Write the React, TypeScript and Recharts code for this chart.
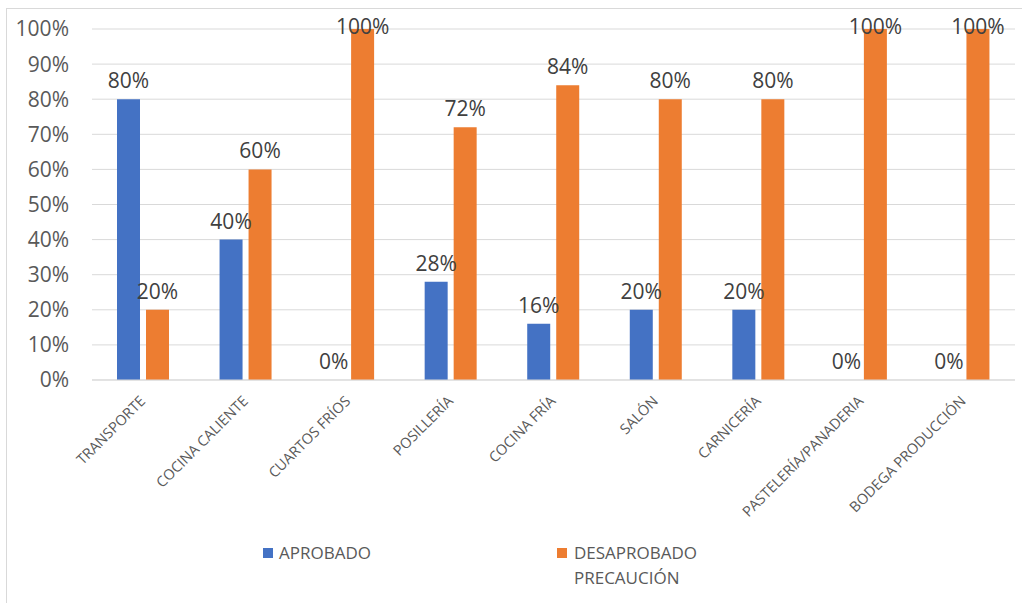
import React from 'react';
import { BarChart, Bar, XAxis, YAxis, CartesianGrid, LabelList, Legend } from 'recharts';

const categories = ['TRANSPORTE', 'COCINA CALIENTE', 'CUARTOS FRÍOS', 'POSILLERÍA', 'COCINA FRÍA', 'SALÓN', 'CARNICERÍA', 'PASTELERÍA/PANADERIA', 'BODEGA PRODUCCIÓN'];
const aprobado = [80, 40, 0, 28, 16, 20, 20, 0, 0];
const desaprobado = [20, 60, 100, 72, 84, 80, 80, 100, 100];
const yTicks = [0, 10, 20, 30, 40, 50, 60, 70, 80, 90, 100];
const seriesNames = ['APROBADO', 'DESAPROBADO PRECAUCIÓN'];
const seriesColors = ['#4472C4', '#ED7D31'];

const data = categories.map((c, i) => ({ name: c, a: aprobado[i], d: desaprobado[i] }));

const FONT = '"Open Sans", sans-serif';

const renderLabel = (props: any) => {
  const { x, y, width, height, value } = props;
  const top = Math.min(Number(y), Number(y) + Number(height || 0));
  const baseline = Math.max(top - 11, 34);
  return (
    <text x={Number(x) + Number(width) / 2} y={baseline} textAnchor="middle" fill="#404040" fontSize={21} fontFamily={FONT}>
      {value}%
    </text>
  );
};

const XTick = (props: any) => {
  const { x, y, payload } = props;
  return (
    <text transform={`translate(${x + 3},${y + 22}) rotate(-45)`} textAnchor="end" fontSize={14.5} fill="#595959" fontFamily={FONT}>
      {payload.value}
    </text>
  );
};

const LegendContent = () => (
  <div style={{ position: 'relative', width: 1022, height: 60, fontFamily: FONT, color: '#595959', fontSize: 17 }}>
    <div style={{ position: 'absolute', left: 263, top: 13, width: 10, height: 10, background: seriesColors[0] }} />
    <div style={{ position: 'absolute', left: 279, top: 5, lineHeight: '25px' }}>{seriesNames[0]}</div>
    <div style={{ position: 'absolute', left: 557, top: 13, width: 10, height: 10, background: seriesColors[1] }} />
    <div style={{ position: 'absolute', left: 574, top: 5, lineHeight: '25px', width: 140 }}>{seriesNames[1]}</div>
  </div>
);

export default function App() {
  return (
    <div style={{ position: 'absolute', left: 0, top: 0, width: 1022, height: 603, overflow: 'hidden', background: '#fff' }}>
      <div style={{ position: 'absolute', left: 6, top: 8, width: 1030, height: 620, border: '1px solid #d9d9d9' }} />
      <div style={{ position: 'absolute', left: 0, top: 0 }}>
        <BarChart width={1022} height={603} data={data} margin={{ top: 29, right: 7, bottom: 193, left: 0 }} barSize={23} barGap={6}>
          <CartesianGrid vertical={false} stroke="#d9d9d9" strokeWidth={1} />
          <XAxis dataKey="name" height={30} interval={0} tickLine={false} axisLine={{ stroke: '#d9d9d9' }} tickSize={0} tickMargin={0} tick={<XTick />} />
          <YAxis width={92} domain={[0, 100]} ticks={yTicks} tickFormatter={(v: number) => `${v}%`} axisLine={false} tickLine={false} tickSize={0} tickMargin={23} tick={{ fill: '#595959', fontSize: 21, fontFamily: FONT }} />
          <Legend layout="horizontal" verticalAlign="middle" align="center" wrapperStyle={{ top: 535, left: 0, width: 1022 }} content={<LegendContent />} />
          <Bar dataKey="a" name={seriesNames[0]} fill={seriesColors[0]} isAnimationActive={false} minPointSize={0.01}>
            <LabelList dataKey="a" content={renderLabel} />
          </Bar>
          <Bar dataKey="d" name={seriesNames[1]} fill={seriesColors[1]} isAnimationActive={false}>
            <LabelList dataKey="d" content={renderLabel} />
          </Bar>
        </BarChart>
      </div>
    </div>
  );
}
